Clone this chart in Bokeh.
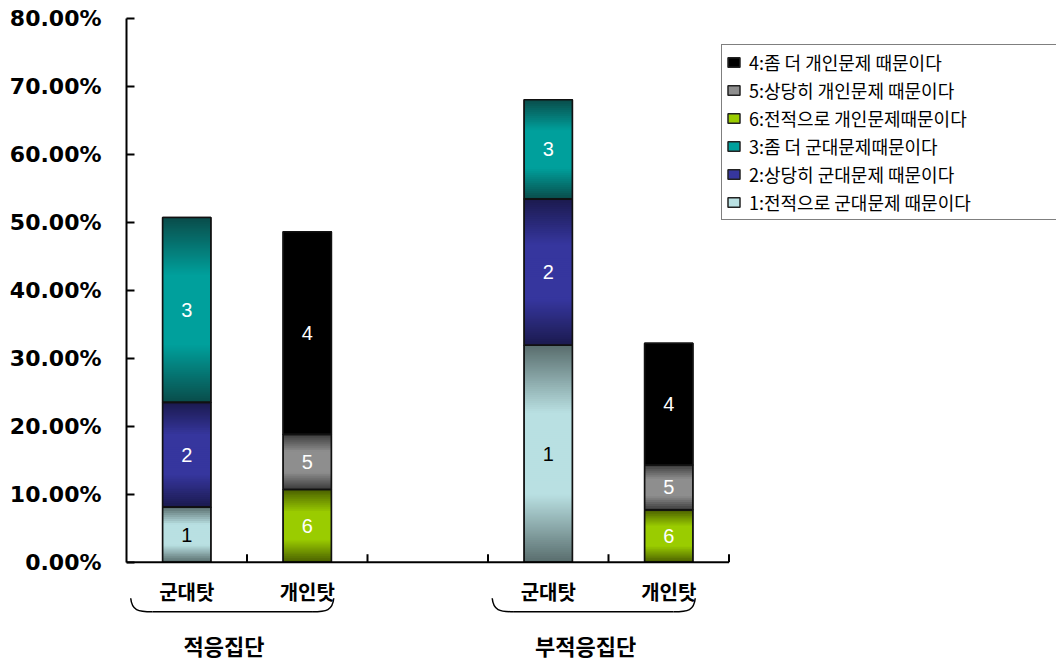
import math

from bokeh.plotting import figure
from bokeh.models import Range1d, LinearAxis, FixedTicker, Legend, LegendItem, ColumnDataSource
from bokeh.embed import file_html
from bokeh.resources import INLINE
from bokeh.core.properties import value

# ---- data (percent of respondents) ----
groups = ["적응집단", "부적응집단"]
bar_cats = ["군대탓", "개인탓"]

# army-blame bar: stacked 1 (bottom) -> 2 -> 3 (top)
army_1 = [8.1, 31.9]
army_2 = [15.4, 21.5]
army_3 = [27.2, 14.6]
# self-blame bar: stacked 6 (bottom) -> 5 -> 4 (top)
self_6 = [10.7, 7.7]
self_5 = [8.1, 6.6]
self_4 = [29.8, 17.9]

seg_names = {
    "4": "4:좀 더 개인문제 때문이다",
    "5": "5:상당히 개인문제 때문이다",
    "6": "6:전적으로 개인문제때문이다",
    "3": "3:좀 더 군대문제때문이다",
    "2": "2:상당히 군대문제 때문이다",
    "1": "1:전적으로 군대문제 때문이다",
}
legend_order = ["4", "5", "6", "3", "2", "1"]

y_ticks = [0, 10, 20, 30, 40, 50, 60, 70, 80]
y_tick_labels = ["0.00%", "10.00%", "20.00%", "30.00%", "40.00%",
                 "50.00%", "60.00%", "70.00%", "80.00%"]

# ---- styling ----
# (edge colour, centre colour) of each segment's banded fill
shade = {
    "1": ("#596d6d", "#b9e0e2"),
    "2": ("#1b1a4e", "#36369e"),
    "3": ("#0a4c4a", "#00a09c"),
    "4": ("#000000", "#000000"),
    "5": ("#3a3a3a", "#8e8e8e"),
    "6": ("#4a5f00", "#9acc00"),
}
label_color = {"1": "black", "2": "white", "3": "white",
               "4": "white", "5": "white", "6": "white"}

SLOT_PX = 120.5
PX_PER_UNIT = 6.8
BAR_W = 0.4


def hex_rgb(h):
    h = h.lstrip("#")
    return tuple(int(h[i:i + 2], 16) for i in (0, 2, 4))


def mix(c0, c1, f):
    a, b = hex_rgb(c0), hex_rgb(c1)
    return "#%02x%02x%02x" % tuple(round(a[i] + (b[i] - a[i]) * f) for i in range(3))


p = figure(width=1056, height=660,
           x_range=Range1d(0, 930 / SLOT_PX), y_range=Range1d(-14.45, 82.6),
           x_axis_type=None, y_axis_type=None,
           output_backend="svg", toolbar_location=None,
           min_border_left=126, min_border_right=0,
           min_border_top=0, min_border_bottom=0)
p.outline_line_color = None
p.background_fill_color = "white"
p.border_fill_color = "white"

# ---- stacked bars ----
bars = []  # (x centre, [(key, value), ...])
for g in range(len(groups)):
    base = g * 3
    bars.append((base + 0.5, [("1", army_1[g]), ("2", army_2[g]), ("3", army_3[g])]))
    bars.append((base + 1.5, [("6", self_6[g]), ("5", self_5[g]), ("4", self_4[g])]))

solid = {k: dict(left=[], right=[], bottom=[], top=[]) for k in shade}
band = dict(left=[], right=[], bottom=[], top=[], color=[])
outline = dict(left=[], right=[], bottom=[], top=[])
labels = dict(x=[], y=[], text=[], color=[])
for xc, segs in bars:
    acc = 0.0
    for key, v in segs:
        lo, hi = acc, acc + v
        edge, mid = shade[key]
        for d in (solid[key], outline):
            d["left"].append(xc - BAR_W / 2)
            d["right"].append(xc + BAR_W / 2)
            d["bottom"].append(lo)
            d["top"].append(hi)
        # vertical shading: dark at both ends, light through the middle
        n = max(4, math.ceil(v * PX_PER_UNIT / 2))
        step = v / n
        for i in range(n):
            t = (i + 0.5) / n
            f = min(1.0, (1 - abs(2 * t - 1)) * 1.6)
            band["left"].append(xc - BAR_W / 2)
            band["right"].append(xc + BAR_W / 2)
            band["bottom"].append(lo + step * i)
            band["top"].append(min(hi, lo + step * (i + 1.6)))
            band["color"].append(mix(edge, mid, f))
        labels["x"].append(xc)
        labels["y"].append((lo + hi) / 2)
        labels["text"].append(key)
        labels["color"].append(label_color[key])
        acc = hi

# flat fill per response (also used by the legend), shaded bands over it
solid_r = {}
for key in shade:
    solid_r[key] = p.quad(left="left", right="right", bottom="bottom", top="top",
                          fill_color=shade[key][1] if key != "4" else "#000000",
                          line_color="#222222", line_width=1.5,
                          source=ColumnDataSource(solid[key]))
p.quad(left="left", right="right", bottom="bottom", top="top",
       fill_color="color", line_color=None,
       source=ColumnDataSource(band))
p.quad(left="left", right="right", bottom="bottom", top="top",
       fill_color=None, line_color="#111111", line_width=1.6,
       source=ColumnDataSource(outline))
p.text(x="x", y="y", text="text", text_color="color",
       text_font=value("Liberation Sans"), text_font_size="20px",
       text_align="center", text_baseline="middle",
       source=ColumnDataSource(labels))

# ---- value axis ----
yax = LinearAxis(bounds=(0, 80), ticker=FixedTicker(ticks=y_ticks))
yax.major_label_overrides = dict(zip(y_ticks, y_tick_labels))
yax.axis_line_width = 2
yax.major_tick_line_width = 2
yax.major_tick_in = 8
yax.major_tick_out = 0
yax.minor_tick_line_color = None
yax.major_label_standoff = 25
yax.major_label_text_font = "DejaVu Sans"
yax.major_label_text_font_style = "bold"
yax.major_label_text_font_size = "22px"
yax.major_label_text_color = "black"
p.add_layout(yax, "left")

# ---- category axis (drawn by hand so it sits at zero) ----
n_slots = 3 * len(groups) - 1
p.segment(x0=[0], y0=[0], x1=[n_slots], y1=[0], line_color="black", line_width=2)
tick_x = list(range(1, n_slots + 1))
p.segment(x0=tick_x, y0=[0] * len(tick_x), x1=tick_x,
          y1=[8 / PX_PER_UNIT] * len(tick_x), line_color="black", line_width=2)

cat_x = [b[0] for b in bars]
cat_text = bar_cats * len(groups)
p.text(x=cat_x, y=[-29 / PX_PER_UNIT] * len(cat_x), text=cat_text,
       text_font=value("Noto Sans CJK KR"), text_font_style="bold",
       text_font_size="20px", text_align="center", text_baseline="middle",
       text_color="black")

# braces under each group and group captions
y_tip = -36 / PX_PER_UNIT
y_low = -49.5 / PX_PER_UNIT
for g in range(len(groups)):
    lft = g * 3 + 0.035
    rgt = g * 3 + 1.72
    curl = 0.18
    p.bezier(x0=[lft, rgt], y0=[y_tip, y_tip],
             x1=[lft + curl, rgt - curl], y1=[y_low, y_low],
             cx0=[lft + 0.01, rgt - 0.01], cy0=[y_low + 0.2, y_low + 0.2],
             cx1=[lft + 0.06, rgt - 0.06], cy1=[y_low, y_low],
             line_color="black", line_width=1.5)
    p.segment(x0=[lft + curl], y0=[y_low], x1=[rgt - curl], y1=[y_low],
              line_color="black", line_width=1.5)

p.text(x=[g * 3 + 1 - 0.19 for g in range(len(groups))],
       y=[-83 / PX_PER_UNIT] * len(groups), text=groups,
       text_font=value("Noto Sans CJK KR"), text_font_style="bold",
       text_font_size="22px", text_align="center", text_baseline="middle",
       text_color="black")

# ---- legend ----
items = [LegendItem(label=seg_names[k], renderers=[solid_r[k]]) for k in legend_order]

legend = Legend(items=items, location=(595, 440))
legend.padding = 4
legend.spacing = 2
legend.margin = 0
legend.label_height = 22
legend.label_width = 330
legend.glyph_width = 15
legend.glyph_height = 12
legend.label_standoff = 8
legend.label_text_font = "Noto Sans CJK KR"
legend.label_text_font_size = "18px"
legend.label_text_color = "black"
legend.border_line_color = "black"
legend.border_line_width = 1.5
legend.background_fill_color = "white"
legend.background_fill_alpha = 1.0
p.add_layout(legend, "center")

open("out.html", "w").write(file_html(p, INLINE))
